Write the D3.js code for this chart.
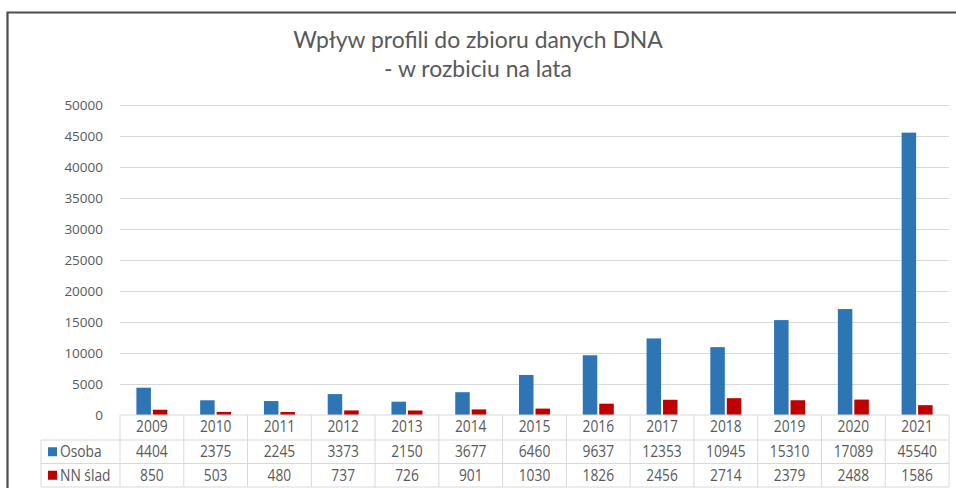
<!DOCTYPE html>
<html>
<head>
<meta charset="utf-8">
<script src="https://cdn.jsdelivr.net/npm/d3@7/dist/d3.min.js"></script>
<style>
  html, body { margin: 0; padding: 0; background: #fff; }
  svg { display: block; }
  text { font-family: "Open Sans", "Noto Sans", sans-serif; fill: #595959; }
</style>
</head>
<body>
<svg id="chart" width="956" height="488"></svg>
<script>
const titleLines = ["Wpływ profili do zbioru danych DNA", "- w rozbiciu na lata"];
const years = ["2009","2010","2011","2012","2013","2014","2015","2016","2017","2018","2019","2020","2021"];
const seriesNames = ["Osoba", "NN ślad"];
const osoba = [4404, 2375, 2245, 3373, 2150, 3677, 6460, 9637, 12353, 10945, 15310, 17089, 45540];
const nnSlad = [850, 503, 480, 737, 726, 901, 1030, 1826, 2456, 2714, 2379, 2488, 1586];
const yTicks = [0, 5000, 10000, 15000, 20000, 25000, 30000, 35000, 40000, 45000, 50000];
const colors = ["#2E75B6", "#C00000"];

const svg = d3.select("#chart");
const W = 956, H = 488;

// Frame
svg.append("path")
  .attr("d", `M7.5,${H+2} L7.5,12.5 L${W+2},12.5`)
  .attr("fill", "none").attr("stroke", "#4d4d4d").attr("stroke-width", 2.2);

// Title
const t1 = svg.append("text").attr("x", 478).attr("y", 48).attr("text-anchor", "middle")
  .style("font-family", "Lato, 'Open Sans', sans-serif").style("font-size", "21px").text(titleLines[0]);
const t2 = svg.append("text").attr("x", 478).attr("y", 77).attr("text-anchor", "middle")
  .style("font-family", "Lato, 'Open Sans', sans-serif").style("font-size", "21px").text(titleLines[1]);
const w1 = t1.node().getComputedTextLength();
const fs = 21 * 370 / w1;
t1.style("font-size", fs + "px");
t2.style("font-size", fs + "px");

// Scales
const plotLeft = 120, plotRight = 949, plotTop = 105, plotBottom = 415;
const x = d3.scaleBand().domain(years).range([plotLeft, plotRight]).paddingInner(0).paddingOuter(0);
const groupW = x.bandwidth() * 0.486;
const xs = d3.scaleBand().domain(seriesNames).range([0, groupW]).paddingInner(0.12);
const y = d3.scaleLinear().domain([0, 50000]).range([plotBottom, plotTop]);

// Gridlines
svg.append("g")
  .attr("transform", `translate(${plotLeft},0)`)
  .call(d3.axisLeft(y).tickValues(yTicks.filter(d => d > 0)).tickSize(-(plotRight - plotLeft)).tickFormat(""))
  .call(g => g.select(".domain").remove())
  .call(g => g.selectAll("line").attr("stroke", "#d9d9d9").attr("stroke-width", 1));

// Y axis labels
svg.append("g")
  .attr("transform", `translate(${plotLeft - 17},0)`)
  .call(d3.axisLeft(y).tickValues(yTicks).tickSize(0).tickPadding(0).tickFormat(d3.format("d")))
  .call(g => g.select(".domain").remove())
  .call(g => g.selectAll("text").style("font-family", "'Open Sans', sans-serif").style("font-size", "13.5px").attr("fill", "#595959"));

// Bars
const seriesData = [osoba, nnSlad];
seriesNames.forEach((name, si) => {
  svg.append("g").selectAll("rect")
    .data(years.map((yr, i) => ({ yr, v: seriesData[si][i] })))
    .join("rect")
    .attr("x", d => x(d.yr) + x.bandwidth() / 2 - groupW / 2 + xs(name))
    .attr("width", xs.bandwidth())
    .attr("y", d => y(d.v))
    .attr("height", d => y(0) - y(d.v))
    .attr("fill", colors[si]);
});

// Data table
const tableLeft = 41;
const rowY = [415, 440, 463.5, 487];
const grid = svg.append("g").attr("stroke", "#d9d9d9").attr("stroke-width", 1).attr("fill", "none");
grid.append("line").attr("x1", plotLeft).attr("x2", plotRight).attr("y1", rowY[0]).attr("y2", rowY[0]);
rowY.slice(1).forEach(yy => grid.append("line").attr("x1", tableLeft).attr("x2", plotRight).attr("y1", yy).attr("y2", yy));
grid.append("line").attr("x1", tableLeft).attr("x2", tableLeft).attr("y1", rowY[1]).attr("y2", rowY[3]);
years.forEach(yr => grid.append("line").attr("x1", x(yr)).attr("x2", x(yr)).attr("y1", rowY[0]).attr("y2", rowY[3]));
grid.append("line").attr("x1", plotRight).attr("x2", plotRight).attr("y1", rowY[0]).attr("y2", rowY[3]);

const tableFont = "13.8px";
const stretch = 1.12;
// Year row
svg.append("g").selectAll("text").data(years).join("text")
  .attr("transform", d => `translate(${x(d) + x.bandwidth() / 2},${(rowY[0] + rowY[1]) / 2 - 0.5}) scale(1,${stretch})`)
  .attr("dy", "0.35em").attr("text-anchor", "middle")
  .style("font-size", tableFont).text(d => d);

seriesNames.forEach((name, si) => {
  const yc = (rowY[si + 1] + rowY[si + 2]) / 2;
  svg.append("rect").attr("x", 48).attr("y", yc - 4.5).attr("width", 9).attr("height", 9).attr("fill", colors[si]);
  svg.append("text").attr("transform", `translate(60,${yc}) scale(1,${stretch})`).attr("dy", "0.35em").style("font-size", tableFont).text(name);
  svg.append("g").selectAll("text").data(years.map((yr, i) => ({ yr, v: seriesData[si][i] }))).join("text")
    .attr("transform", d => `translate(${x(d.yr) + x.bandwidth() / 2},${yc}) scale(1,${stretch})`)
    .attr("dy", "0.35em").attr("text-anchor", "middle")
    .style("font-size", tableFont).text(d => d.v);
});
</script>
</body>
</html>
